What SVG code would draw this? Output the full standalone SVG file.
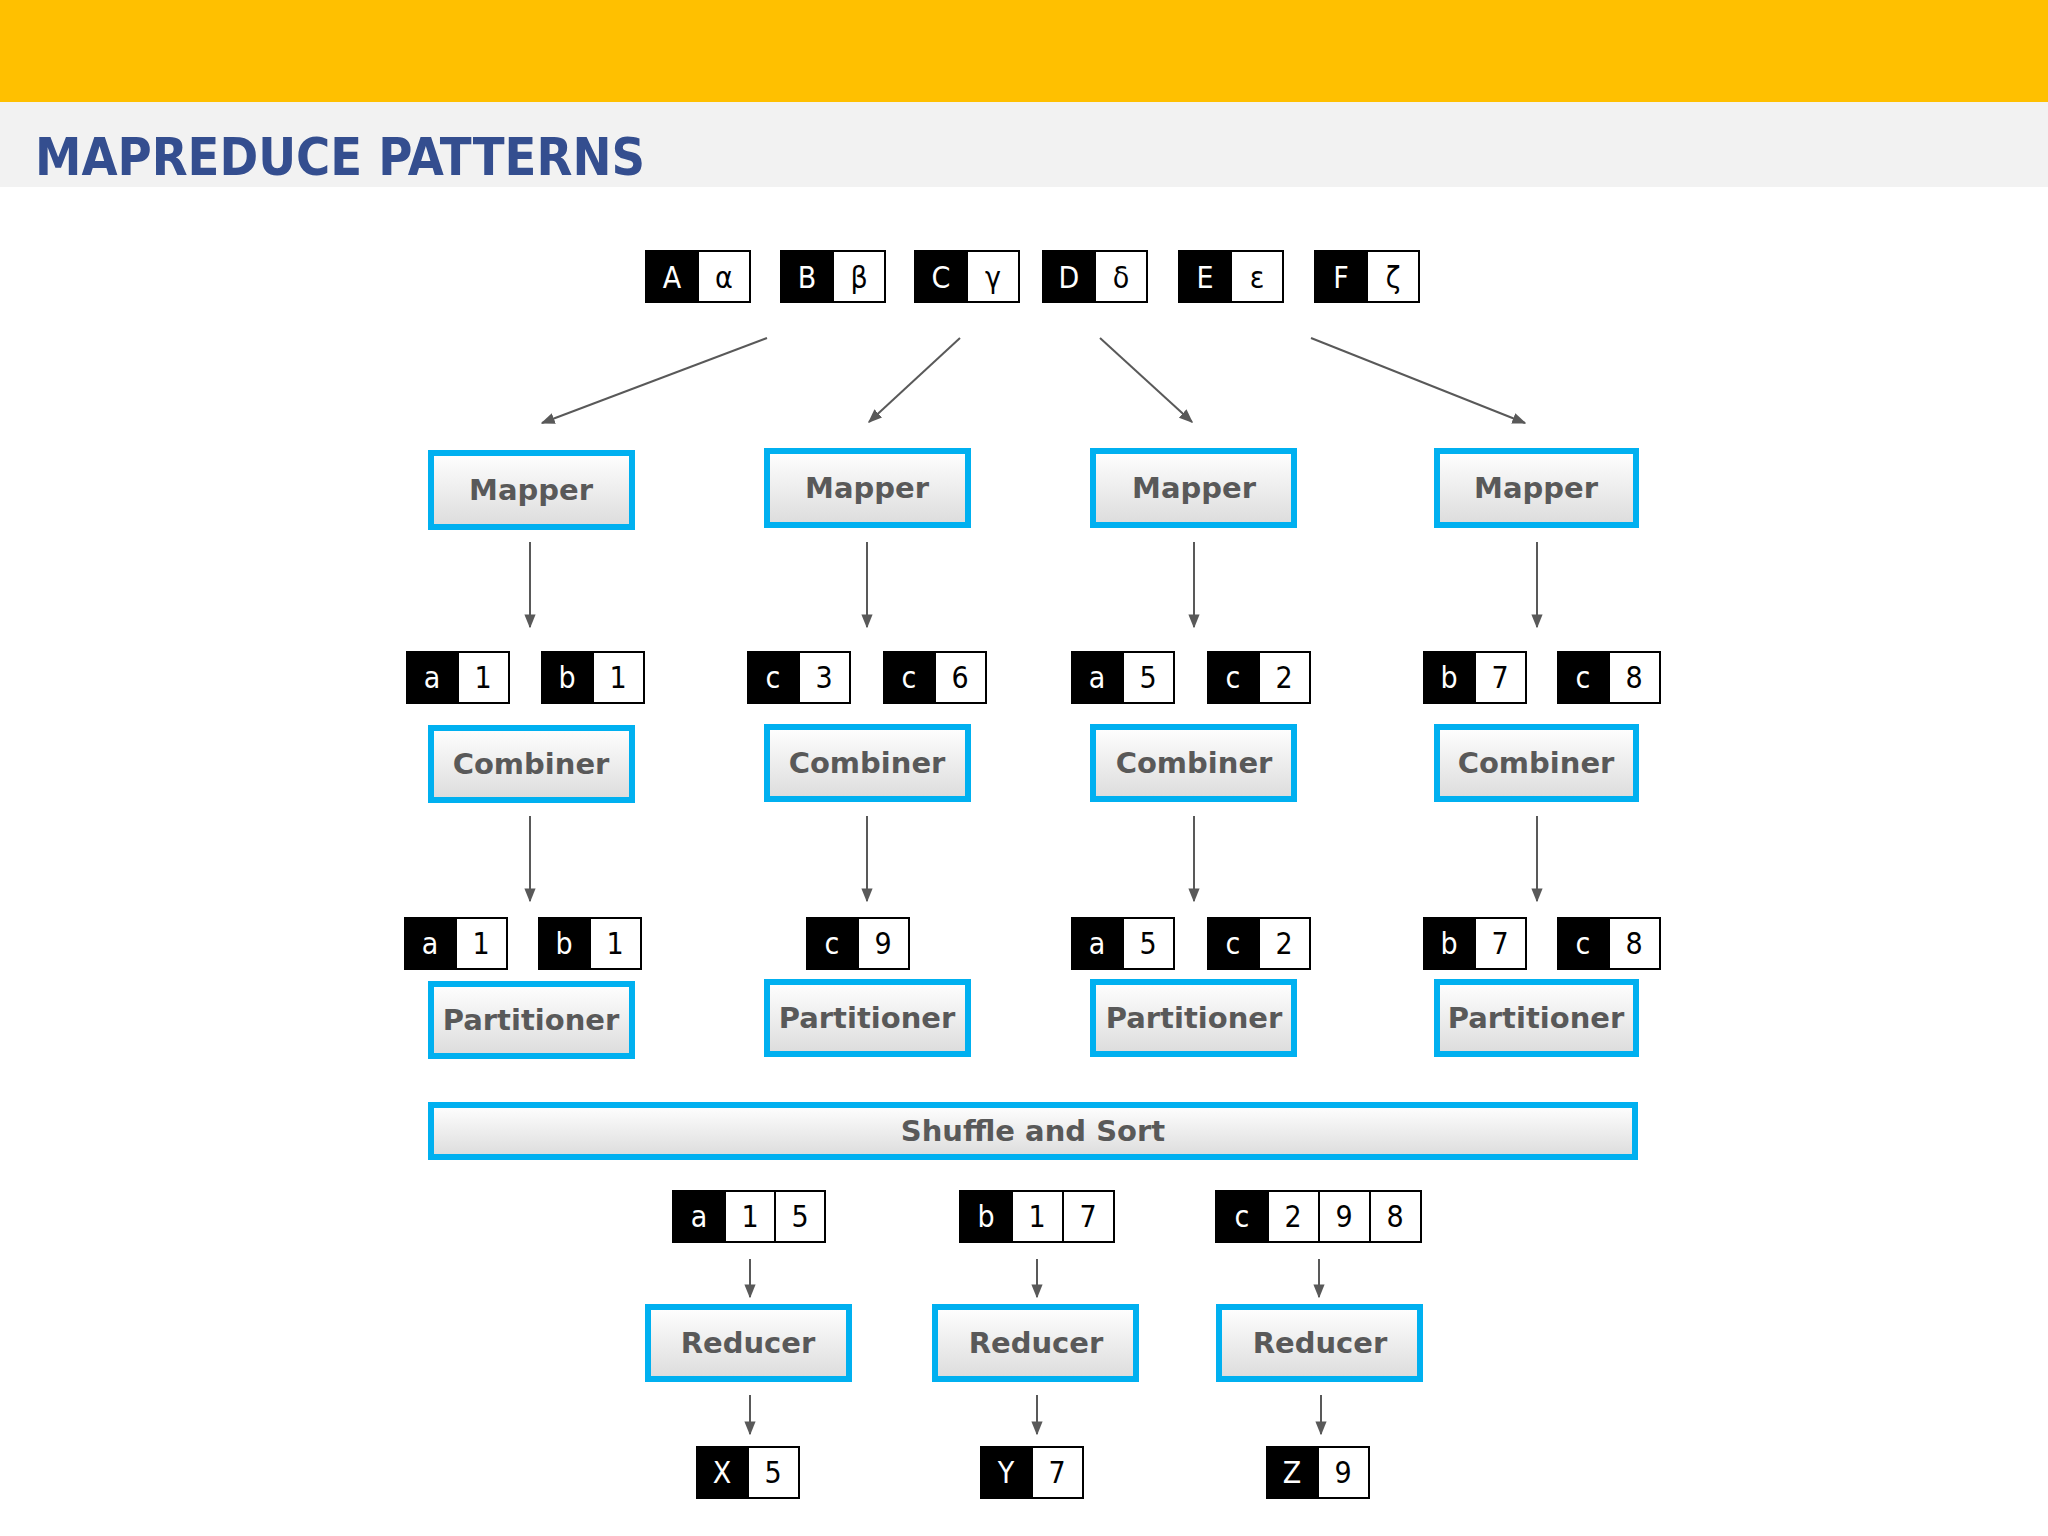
<svg xmlns="http://www.w3.org/2000/svg" width="2048" height="1536" viewBox="0 0 2048 1536">
<defs>
<linearGradient id="g" x1="0" y1="0" x2="0" y2="1"><stop offset="0" stop-color="#ffffff"/><stop offset="1" stop-color="#dcdcdc"/></linearGradient>
<marker id="ah" viewBox="0 0 10 10" refX="9" refY="5" markerWidth="7" markerHeight="7" orient="auto"><path d="M0,1 L10,5 L0,9 z" fill="#595959"/></marker>
<style>
.proc{fill:url(#g);stroke:#00B0F0;stroke-width:6}
.pt{font-family:"DejaVu Sans",sans-serif;font-weight:bold;font-size:29px;fill:#595959;text-anchor:middle}
.k{fill:#000;stroke:#000;stroke-width:2}
.v{fill:#fff;stroke:#000;stroke-width:2}
.kt{font-family:"DejaVu Sans Condensed","DejaVu Sans",sans-serif;font-size:30px;fill:#fff;text-anchor:middle}
.vt{font-family:"DejaVu Sans Condensed","DejaVu Sans",sans-serif;font-size:30px;fill:#000;text-anchor:middle}
.c line{stroke:#595959;stroke-width:2;marker-end:url(#ah)}
</style>
</defs>
<rect width="2048" height="1536" fill="#fff"/>
<rect x="0" y="0" width="2048" height="102" fill="#FFC000"/>
<rect x="0" y="102" width="2048" height="85" fill="#F2F2F2"/>
<text x="35" y="175" font-family="DejaVu Sans Condensed,DejaVu Sans,sans-serif" font-weight="bold" font-size="52" fill="#344E8F" textLength="610" lengthAdjust="spacingAndGlyphs">MAPREDUCE PATTERNS</text>

<g id="inputs">
<g id="in-A"><rect class="k" x="646" y="251" width="52" height="51"/><rect class="v" x="698" y="251" width="52" height="51"/><text class="kt" x="672" y="288">A</text><text class="vt" x="724" y="288">α</text></g>
<g id="in-B"><rect class="k" x="781" y="251" width="52" height="51"/><rect class="v" x="833" y="251" width="52" height="51"/><text class="kt" x="807" y="288">B</text><text class="vt" x="859" y="288">β</text></g>
<g id="in-C"><rect class="k" x="915" y="251" width="52" height="51"/><rect class="v" x="967" y="251" width="52" height="51"/><text class="kt" x="941" y="288">C</text><text class="vt" x="993" y="288">γ</text></g>
<g id="in-D"><rect class="k" x="1043" y="251" width="52" height="51"/><rect class="v" x="1095" y="251" width="52" height="51"/><text class="kt" x="1069" y="288">D</text><text class="vt" x="1121" y="288">δ</text></g>
<g id="in-E"><rect class="k" x="1179" y="251" width="52" height="51"/><rect class="v" x="1231" y="251" width="52" height="51"/><text class="kt" x="1205" y="288">E</text><text class="vt" x="1257" y="288">ε</text></g>
<g id="in-F"><rect class="k" x="1315" y="251" width="52" height="51"/><rect class="v" x="1367" y="251" width="52" height="51"/><text class="kt" x="1341" y="288">F</text><text class="vt" x="1393" y="288">ζ</text></g>
</g>

<g id="mapper1"><rect class="proc" x="431" y="453" width="201" height="74"/><text class="pt" x="531" y="500">Mapper</text></g>
<g id="mapper2"><rect class="proc" x="767" y="451" width="201" height="74"/><text class="pt" x="867" y="498">Mapper</text></g>
<g id="mapper3"><rect class="proc" x="1093" y="451" width="201" height="74"/><text class="pt" x="1194" y="498">Mapper</text></g>
<g id="mapper4"><rect class="proc" x="1437" y="451" width="199" height="74"/><text class="pt" x="1536" y="498">Mapper</text></g>

<g id="map-out">
<rect class="k" x="407" y="652" width="51" height="51"/><rect class="v" x="458" y="652" width="51" height="51"/><text class="kt" x="432" y="688">a</text><text class="vt" x="483" y="688">1</text>
<rect class="k" x="542" y="652" width="51" height="51"/><rect class="v" x="593" y="652" width="51" height="51"/><text class="kt" x="567" y="688">b</text><text class="vt" x="618" y="688">1</text>
<rect class="k" x="748" y="652" width="51" height="51"/><rect class="v" x="799" y="652" width="51" height="51"/><text class="kt" x="773" y="688">c</text><text class="vt" x="824" y="688">3</text>
<rect class="k" x="884" y="652" width="51" height="51"/><rect class="v" x="935" y="652" width="51" height="51"/><text class="kt" x="909" y="688">c</text><text class="vt" x="960" y="688">6</text>
<rect class="k" x="1072" y="652" width="51" height="51"/><rect class="v" x="1123" y="652" width="51" height="51"/><text class="kt" x="1097" y="688">a</text><text class="vt" x="1148" y="688">5</text>
<rect class="k" x="1208" y="652" width="51" height="51"/><rect class="v" x="1259" y="652" width="51" height="51"/><text class="kt" x="1233" y="688">c</text><text class="vt" x="1284" y="688">2</text>
<rect class="k" x="1424" y="652" width="51" height="51"/><rect class="v" x="1475" y="652" width="51" height="51"/><text class="kt" x="1449" y="688">b</text><text class="vt" x="1500" y="688">7</text>
<rect class="k" x="1558" y="652" width="51" height="51"/><rect class="v" x="1609" y="652" width="51" height="51"/><text class="kt" x="1583" y="688">c</text><text class="vt" x="1634" y="688">8</text>
</g>

<g id="combiner1"><rect class="proc" x="431" y="728" width="201" height="72"/><text class="pt" x="531" y="774">Combiner</text></g>
<g id="combiner2"><rect class="proc" x="767" y="727" width="201" height="72"/><text class="pt" x="867" y="773">Combiner</text></g>
<g id="combiner3"><rect class="proc" x="1093" y="727" width="201" height="72"/><text class="pt" x="1194" y="773">Combiner</text></g>
<g id="combiner4"><rect class="proc" x="1437" y="727" width="199" height="72"/><text class="pt" x="1536" y="773">Combiner</text></g>

<g id="comb-out">
<rect class="k" x="405" y="918" width="51" height="51"/><rect class="v" x="456" y="918" width="51" height="51"/><text class="kt" x="430" y="954">a</text><text class="vt" x="481" y="954">1</text>
<rect class="k" x="539" y="918" width="51" height="51"/><rect class="v" x="590" y="918" width="51" height="51"/><text class="kt" x="564" y="954">b</text><text class="vt" x="615" y="954">1</text>
<rect class="k" x="807" y="918" width="51" height="51"/><rect class="v" x="858" y="918" width="51" height="51"/><text class="kt" x="832" y="954">c</text><text class="vt" x="883" y="954">9</text>
<rect class="k" x="1072" y="918" width="51" height="51"/><rect class="v" x="1123" y="918" width="51" height="51"/><text class="kt" x="1097" y="954">a</text><text class="vt" x="1148" y="954">5</text>
<rect class="k" x="1208" y="918" width="51" height="51"/><rect class="v" x="1259" y="918" width="51" height="51"/><text class="kt" x="1233" y="954">c</text><text class="vt" x="1284" y="954">2</text>
<rect class="k" x="1424" y="918" width="51" height="51"/><rect class="v" x="1475" y="918" width="51" height="51"/><text class="kt" x="1449" y="954">b</text><text class="vt" x="1500" y="954">7</text>
<rect class="k" x="1558" y="918" width="51" height="51"/><rect class="v" x="1609" y="918" width="51" height="51"/><text class="kt" x="1583" y="954">c</text><text class="vt" x="1634" y="954">8</text>
</g>

<g id="partitioner1"><rect class="proc" x="431" y="984" width="201" height="72"/><text class="pt" x="531" y="1030">Partitioner</text></g>
<g id="partitioner2"><rect class="proc" x="767" y="982" width="201" height="72"/><text class="pt" x="867" y="1028">Partitioner</text></g>
<g id="partitioner3"><rect class="proc" x="1093" y="982" width="201" height="72"/><text class="pt" x="1194" y="1028">Partitioner</text></g>
<g id="partitioner4"><rect class="proc" x="1437" y="982" width="199" height="72"/><text class="pt" x="1536" y="1028">Partitioner</text></g>

<g id="shuffle"><rect class="proc" x="431" y="1105" width="1204" height="52"/><text class="pt" x="1033" y="1141">Shuffle and Sort</text></g>

<g id="red-in">
<rect class="k" x="673" y="1191" width="52" height="51"/><rect class="v" x="725" y="1191" width="50" height="51"/><rect class="v" x="775" y="1191" width="50" height="51"/><text class="kt" x="699" y="1227">a</text><text class="vt" x="750" y="1227">1</text><text class="vt" x="800" y="1227">5</text>
<rect class="k" x="960" y="1191" width="52" height="51"/><rect class="v" x="1012" y="1191" width="51" height="51"/><rect class="v" x="1063" y="1191" width="51" height="51"/><text class="kt" x="986" y="1227">b</text><text class="vt" x="1037" y="1227">1</text><text class="vt" x="1088" y="1227">7</text>
<rect class="k" x="1216" y="1191" width="52" height="51"/><rect class="v" x="1268" y="1191" width="51" height="51"/><rect class="v" x="1319" y="1191" width="51" height="51"/><rect class="v" x="1370" y="1191" width="51" height="51"/><text class="kt" x="1242" y="1227">c</text><text class="vt" x="1293" y="1227">2</text><text class="vt" x="1344" y="1227">9</text><text class="vt" x="1395" y="1227">8</text>
</g>

<g id="reducer1"><rect class="proc" x="648" y="1307" width="201" height="72"/><text class="pt" x="748" y="1353">Reducer</text></g>
<g id="reducer2"><rect class="proc" x="935" y="1307" width="201" height="72"/><text class="pt" x="1036" y="1353">Reducer</text></g>
<g id="reducer3"><rect class="proc" x="1219" y="1307" width="201" height="72"/><text class="pt" x="1320" y="1353">Reducer</text></g>

<g id="outputs">
<rect class="k" x="697" y="1447" width="51" height="51"/><rect class="v" x="748" y="1447" width="51" height="51"/><text class="kt" x="722" y="1483">X</text><text class="vt" x="773" y="1483">5</text>
<rect class="k" x="981" y="1447" width="51" height="51"/><rect class="v" x="1032" y="1447" width="51" height="51"/><text class="kt" x="1006" y="1483">Y</text><text class="vt" x="1057" y="1483">7</text>
<rect class="k" x="1267" y="1447" width="51" height="51"/><rect class="v" x="1318" y="1447" width="51" height="51"/><text class="kt" x="1292" y="1483">Z</text><text class="vt" x="1343" y="1483">9</text>
</g>

<g id="connectors" class="c">
<line x1="767" y1="338" x2="542" y2="423"/>
<line x1="960" y1="338" x2="869" y2="422"/>
<line x1="1100" y1="338" x2="1192" y2="422"/>
<line x1="1311" y1="338" x2="1525" y2="423"/>
<line x1="530" y1="542" x2="530" y2="627"/>
<line x1="867" y1="542" x2="867" y2="627"/>
<line x1="1194" y1="542" x2="1194" y2="627"/>
<line x1="1537" y1="542" x2="1537" y2="627"/>
<line x1="530" y1="816" x2="530" y2="901"/>
<line x1="867" y1="816" x2="867" y2="901"/>
<line x1="1194" y1="816" x2="1194" y2="901"/>
<line x1="1537" y1="816" x2="1537" y2="901"/>
<line x1="750" y1="1259" x2="750" y2="1297"/>
<line x1="1037" y1="1259" x2="1037" y2="1297"/>
<line x1="1319" y1="1259" x2="1319" y2="1297"/>
<line x1="750" y1="1395" x2="750" y2="1434"/>
<line x1="1037" y1="1395" x2="1037" y2="1434"/>
<line x1="1321" y1="1395" x2="1321" y2="1434"/>
</g>
</svg>
